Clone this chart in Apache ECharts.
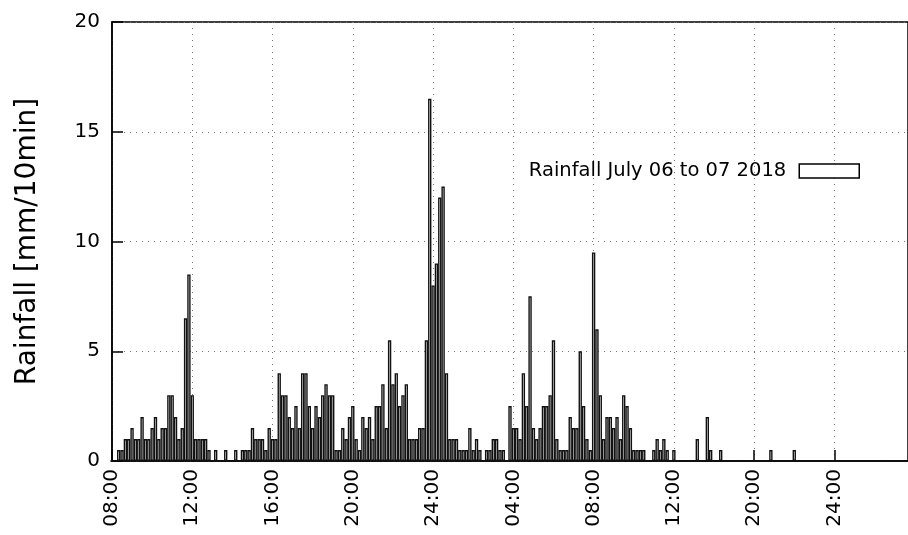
<!DOCTYPE html>
<html>
<head>
<meta charset="utf-8">
<script src="https://cdn.jsdelivr.net/npm/echarts@6/dist/echarts.min.js"></script>
<style>
html,body{margin:0;padding:0;background:#fff;}
#chart{width:908px;height:535px;}
</style>
</head>
<body>
<div id="chart"></div>
<script>
// 10-minute rainfall records (index order), mm/10min
var rainfall = [
  0, 0, 0.5, 0.5, 1.0, 1.0, 1.5, 1.0, 1.0, 2.0,
  1.0, 1.0, 1.5, 2.0, 1.0, 1.5, 1.5, 3.0, 3.0, 2.0,
  1.0, 1.5, 6.5, 8.5, 3.0, 1.0, 1.0, 1.0, 1.0, 0.5,
  0, 0.5, 0, 0, 0.5, 0, 0, 0.5, 0, 0.5,
  0.5, 0.5, 1.5, 1.0, 1.0, 1.0, 0.5, 1.5, 1.0, 1.0,
  4.0, 3.0, 3.0, 2.0, 1.5, 2.5, 1.5, 4.0, 4.0, 2.5,
  1.5, 2.5, 2.0, 3.0, 3.5, 3.0, 3.0, 0.5, 0.5, 1.5,
  1.0, 2.0, 2.5, 1.0, 0.5, 2.0, 1.5, 2.0, 1.0, 2.5,
  2.5, 3.5, 1.5, 5.5, 3.5, 4.0, 2.5, 3.0, 3.5, 1.0,
  1.0, 1.0, 1.5, 1.5, 5.5, 16.5, 8.0, 9.0, 12.0, 12.5,
  4.0, 1.0, 1.0, 1.0, 0.5, 0.5, 0.5, 1.5, 0.5, 1.0,
  0.5, 0, 0.5, 0.5, 1.0, 1.0, 0.5, 0.5, 0, 2.5,
  1.5, 1.5, 1.0, 4.0, 2.5, 7.5, 1.5, 1.0, 1.5, 2.5,
  2.5, 3.0, 5.5, 1.0, 0.5, 0.5, 0.5, 2.0, 1.5, 1.5,
  5.0, 2.5, 1.0, 0.5, 9.5, 6.0, 3.0, 1.0, 2.0, 2.0,
  1.5, 2.0, 1.0, 3.0, 2.5, 1.5, 0.5, 0.5, 0.5, 0.5,
  0, 0, 0.5, 1.0, 0.5, 1.0, 0.5, 0, 0.5, 0,
  0, 0, 0, 0, 0, 1.0, 0, 0, 2.0, 0.5,
  0, 0, 0.5, 0, 0, 0, 0, 0, 0, 0,
  0, 0, 0, 0, 0, 0, 0, 0.5, 0, 0,
  0, 0, 0, 0, 0.5, 0, 0, 0, 0, 0,
  0, 0, 0, 0, 0, 0, 0, 0, 0, 0,
  0, 0, 0, 0, 0, 0, 0, 0, 0, 0,
  0, 0, 0, 0, 0, 0, 0, 0, 0
];
// one tick label every 24 records
var tickLabels = ["08:00", "12:00", "16:00", "20:00", "24:00", "04:00", "08:00", "12:00", "20:00", "24:00"];
var tickEvery = 24;
var seriesName = "Rainfall July 06 to 07 2018";
var yTitle = "Rainfall [mm/10min]";

var categories = rainfall.map(function (v, i) { return String(i); });

var FONT = "DejaVu Sans";
var chart = echarts.init(document.getElementById('chart'), null, {renderer: 'canvas'});
chart.setOption({
  animation: false,
  backgroundColor: '#fff',
  textStyle: {fontFamily: FONT},
  grid: {
    left: 112, right: -3, top: 22, bottom: 74,
    show: true, borderColor: '#000', borderWidth: 1.5, backgroundColor: 'transparent'
  },
  legend: {
    data: [seriesName],
    right: 43, top: 156,
    align: 'right',
    icon: 'rect',
    itemWidth: 60, itemHeight: 14, itemGap: 12,
    textStyle: {fontFamily: FONT, fontSize: 19.5, color: '#000', padding: [0, 8, 0, 0]},
    itemStyle: {color: '#fff', borderColor: '#000', borderWidth: 1.5}
  },
  xAxis: {
    type: 'category',
    data: categories,
    boundaryGap: false,
    axisLine: {show: true, lineStyle: {color: '#000', width: 1.5}},
    axisTick: {show: true, inside: true, length: 11, interval: tickEvery - 1, lineStyle: {color: '#000', width: 1.5}},
    axisLabel: {
      show: true, interval: tickEvery - 1, rotate: 90, margin: 8,
      fontFamily: FONT, fontSize: 20, color: '#000',
      formatter: function (v, idx) { return tickLabels[Math.round(idx / tickEvery)] || ''; }
    },
    splitLine: {show: true, interval: tickEvery - 1, lineStyle: {color: '#777', width: 1, type: [1, 5]}}
  },
  yAxis: {
    type: 'value',
    min: 0, max: 20, interval: 5,
    name: yTitle,
    nameLocation: 'middle',
    nameGap: 70,
    nameTextStyle: {fontFamily: FONT, fontSize: 28, color: '#000'},
    axisLine: {show: true, lineStyle: {color: '#000', width: 1.5}},
    axisTick: {show: true, inside: true, length: 11, lineStyle: {color: '#000', width: 1.5}},
    axisLabel: {fontFamily: FONT, fontSize: 20, color: '#000', margin: 12},
    splitLine: {show: true, lineStyle: {color: '#777', width: 1, type: [1, 5]}}
  },
  series: [{
    name: seriesName,
    type: 'bar',
    data: rainfall,
    barWidth: '100%',
    barCategoryGap: 0,
    itemStyle: {color: '#fff', borderColor: '#111', borderWidth: 1.4}
  }]
});
</script>
</body>
</html>
